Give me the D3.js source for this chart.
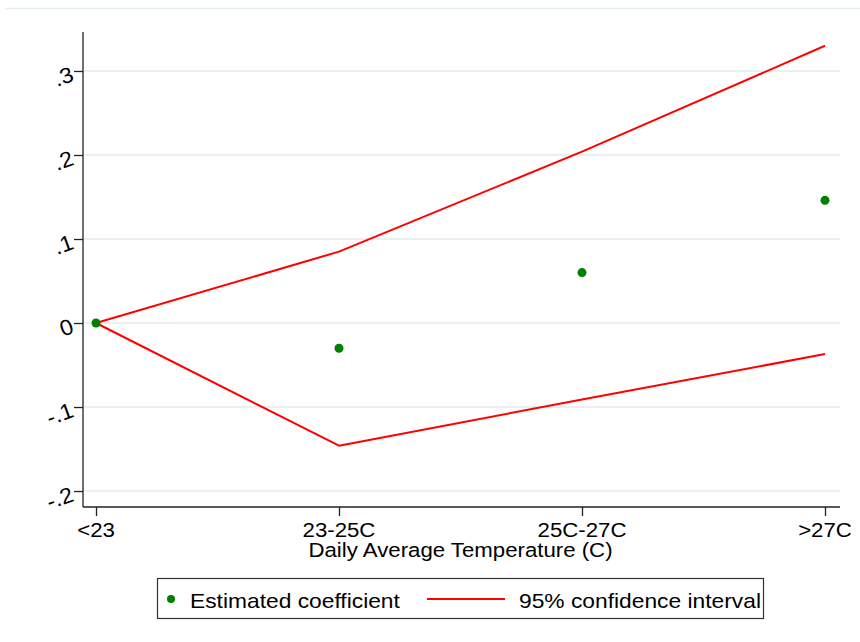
<!DOCTYPE html>
<html>
<head>
<meta charset="utf-8">
<script src="https://cdn.jsdelivr.net/npm/d3@7"></script>
<style>
  html, body { margin: 0; padding: 0; background: #fff; }
  svg { display: block; }
  text { font-family: "Liberation Sans", Arial, sans-serif; fill: #000; }
</style>
</head>
<body>
<svg id="chart" width="860" height="642"></svg>
<script>
// Temperature bins on the x axis
const categories = ["<23", "23-25C", "25C-27C", ">27C"];
// Point estimates of the coefficient for each bin
const estimates = [0, -0.030, 0.060, 0.146];
// Bounds of the 95% confidence interval
const upperCI = [0, 0.085, 0.204, 0.330];
const lowerCI = [0, -0.146, -0.091, -0.037];
// Y axis ticks and labels
const yTicks = [-0.2, -0.1, 0, 0.1, 0.2, 0.3];
const yTickLabels = ["-.2", "-.1", "0", ".1", ".2", ".3"];
const xTitle = "Daily Average Temperature (C)";
const legendLabels = ["Estimated coefficient", "95% confidence interval"];

const svg = d3.select("#chart");
const plot = { left: 83, right: 840, top: 32, bottom: 507 };
const stretch = 1.14; // text is drawn slightly wide

// Outer frame line at the top of the graph region
svg.append("line")
  .attr("x1", 5).attr("x2", 860).attr("y1", 8.5).attr("y2", 8.5)
  .attr("stroke", "#e3eeee").attr("stroke-width", 1.5);

const x = d3.scalePoint().domain(categories).range([96, 825]);
const y = d3.scaleLinear().domain([-0.219, 0.3464]).range([plot.bottom, plot.top]);

// Horizontal grid lines
svg.append("g").selectAll("line").data(yTicks).join("line")
  .attr("x1", plot.left).attr("x2", plot.right)
  .attr("y1", d => y(d)).attr("y2", d => y(d))
  .attr("stroke", "#e8f0f2").attr("stroke-width", 2);

// Y axis
const yAxis = svg.append("g").attr("transform", `translate(${plot.left},0)`)
  .call(d3.axisLeft(y).tickValues(yTicks).tickSize(9).tickFormat(""));
yAxis.select(".domain").attr("d", `M0,${plot.top}V${plot.bottom}`).attr("stroke", "#222").attr("stroke-width", 1.3);
yAxis.selectAll(".tick line").attr("stroke", "#222").attr("stroke-width", 1.3);

svg.append("g").selectAll("text").data(yTicks).join("text")
  .attr("transform", d => `translate(73,${y(d) + 4}) rotate(-20) scale(1.05,1)`)
  .attr("text-anchor", "end")
  .attr("dominant-baseline", "middle")
  .attr("font-size", 22)
  .text((d, i) => yTickLabels[i]);

// X axis
const xAxis = svg.append("g").attr("transform", `translate(0,${plot.bottom})`)
  .call(d3.axisBottom(x).tickSize(9).tickFormat(""));
xAxis.select(".domain").attr("d", `M${plot.left},0H${plot.right}`).attr("stroke", "#222").attr("stroke-width", 1.3);
xAxis.selectAll(".tick line").attr("stroke", "#222").attr("stroke-width", 1.3);

svg.append("g").selectAll("text").data(categories).join("text")
  .attr("transform", d => `translate(${x(d)},537) scale(${stretch},1)`)
  .attr("text-anchor", "middle")
  .attr("font-size", 19.5)
  .text(d => d);

svg.append("text")
  .attr("transform", `translate(${(x(categories[0]) + x(categories[3])) / 2},557) scale(${stretch},1)`)
  .attr("text-anchor", "middle")
  .attr("font-size", 19.5)
  .text(xTitle);

// Confidence interval lines
const line = d3.line().x((d, i) => x(categories[i])).y(d => y(d));
[upperCI, lowerCI].forEach(series => {
  svg.append("path").datum(series)
    .attr("d", line)
    .attr("fill", "none")
    .attr("stroke", "#ff0000")
    .attr("stroke-width", 2)
    .attr("stroke-linejoin", "round");
});

// Point estimates
svg.append("g").selectAll("circle").data(estimates).join("circle")
  .attr("cx", (d, i) => x(categories[i]))
  .attr("cy", d => y(d))
  .attr("r", 4.5)
  .attr("fill", "#007f00");

// Legend
const lg = svg.append("g");
lg.append("rect")
  .attr("x", 157.5).attr("y", 578.5).attr("width", 606).attr("height", 40)
  .attr("fill", "#fff").attr("stroke", "#333").attr("stroke-width", 1.2);
lg.append("circle").attr("cx", 171).attr("cy", 599).attr("r", 4).attr("fill", "#007f00");
lg.append("text")
  .attr("transform", `translate(190,608) scale(${stretch},1)`)
  .attr("font-size", 20)
  .text(legendLabels[0]);
lg.append("line")
  .attr("x1", 427).attr("x2", 505).attr("y1", 599).attr("y2", 599)
  .attr("stroke", "#ff0000").attr("stroke-width", 2);
lg.append("text")
  .attr("transform", `translate(519,608) scale(${stretch},1)`)
  .attr("font-size", 20)
  .text(legendLabels[1]);
</script>
</body>
</html>
